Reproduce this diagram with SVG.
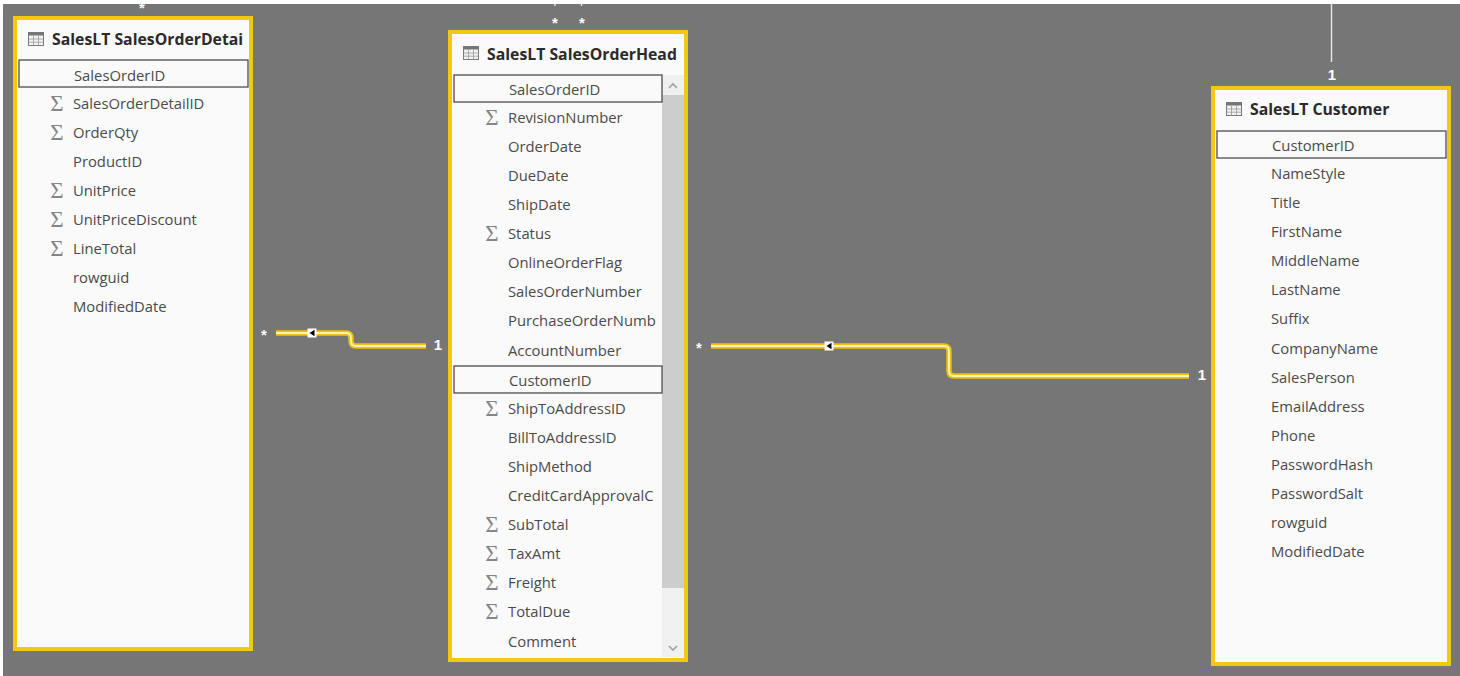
<svg xmlns="http://www.w3.org/2000/svg" xmlns:xlink="http://www.w3.org/1999/xlink" width="1460" height="676" viewBox="0 0 1460 676">
<style>
.card{fill:#fafafa;stroke:#f2c811;stroke-width:4}
.title{font:700 15.8px "Open Sans","Noto Sans",sans-serif;fill:#2b2b2b}
.f{font:400 14.8px "Open Sans","Noto Sans",sans-serif;fill:#4a4a4a}
.s{font:300 23px "Liberation Serif",serif;fill:#858585;text-anchor:middle}
.key{fill:none;stroke:#4d4d4d;stroke-width:1.3}
.card-lab{font:700 15px "Liberation Sans",sans-serif;fill:#fff;text-anchor:middle}
.wy{fill:none;stroke:#ecc20f;stroke-width:5.4;stroke-linejoin:round}
.ww{fill:none;stroke:#fff2ad;stroke-width:1.8;stroke-linejoin:round}
.thin{stroke:#e6e6e6;stroke-width:1.4;fill:none}
</style>
<defs>
<g id="tbl"><rect x="0.5" y="0.5" width="15" height="13" fill="#f2f2f2" stroke="#777" stroke-width="1"/><rect x="0.5" y="0.5" width="15" height="3" fill="#777"/><path d="M5.5 3.5V13.5M10.5 3.500V13.500M.5 7H15.5M.5 10.200H15.5" stroke="#999" stroke-width=".8" fill="none"/></g>
<g id="dir"><rect x="-4.500" y="-4.500" width="9" height="9" fill="#fff"/><path d="M-2.500 0L2.500 -3.200V3.200Z" fill="#000"/></g>
</defs>
<rect width="1460" height="676" fill="#fff"/>
<rect x="3" y="4" width="1457" height="672" fill="#767676"/>
<g id="connectors">
<path class="wy" d="M276 333H346Q351 333 351 338V341Q351 346 356 346H426"/>
<path class="ww" d="M276 333H346Q351 333 351 338V341Q351 346 356 346H426"/>
<use href="#dir" x="312" y="333"/>
<path class="wy" d="M711 346H944Q949 346 949 351V371Q949 376 954 376H1189"/>
<path class="ww" d="M711 346H944Q949 346 949 351V371Q949 376 954 376H1189"/>
<use href="#dir" x="829" y="346"/>
<path class="thin" d="M555 4V6M581.500 4V6M1331.500 4V62"/>
<text class="card-lab" x="264" y="340">*</text>
<text class="card-lab" x="438" y="350">1</text>
<text class="card-lab" x="699" y="353">*</text>
<text class="card-lab" x="1202" y="380">1</text>
<text class="card-lab" x="142" y="13">*</text>
<text class="card-lab" x="555" y="28">*</text>
<text class="card-lab" x="582" y="28">*</text>
<text class="card-lab" x="1332" y="80">1</text>
</g>
<g id="detail">
<rect class="card" x="15" y="18" width="236" height="631"/>
<use href="#tbl" x="28" y="32"/>
<text class="title" x="52" y="45">SalesLT SalesOrderDetai</text>
<rect class="key" x="19" y="60" width="229" height="27"/>
<g class="s"><text x="57" y="111">Σ</text><text x="57" y="140">Σ</text><text x="57" y="198">Σ</text><text x="57" y="227">Σ</text><text x="57" y="256">Σ</text></g>
<g class="f"><text x="74" y="80.500">SalesOrderID</text><text x="73" y="109">SalesOrderDetailID</text><text x="73" y="138">OrderQty</text><text x="73" y="167">ProductID</text><text x="73" y="196">UnitPrice</text><text x="73" y="225">UnitPriceDiscount</text><text x="73" y="254">LineTotal</text><text x="73" y="283">rowguid</text><text x="73" y="312">ModifiedDate</text></g>
</g>
<g id="header">
<rect class="card" x="450" y="32" width="236" height="628"/>
<use href="#tbl" x="463" y="46"/>
<text class="title" x="487" y="60">SalesLT SalesOrderHead</text>
<rect x="662" y="75" width="22" height="582" fill="#f0f0f0"/>
<rect x="662" y="95" width="22" height="493" fill="#cdcdcd"/>
<path d="M669 88L673 84L677 88M669 646L673 650L677 646" fill="none" stroke="#a0a0a0" stroke-width="1.6"/>
<rect class="key" x="454" y="75" width="208" height="27"/>
<rect class="key" x="454" y="366" width="208" height="27"/>
<g class="s"><text x="492" y="125">Σ</text><text x="492" y="241">Σ</text><text x="492" y="416">Σ</text><text x="492" y="532">Σ</text><text x="492" y="561">Σ</text><text x="492" y="590">Σ</text><text x="492" y="619">Σ</text></g>
<g class="f"><text x="509" y="95">SalesOrderID</text><text x="508" y="123">RevisionNumber</text><text x="508" y="152">OrderDate</text><text x="508" y="181">DueDate</text><text x="508" y="210">ShipDate</text><text x="508" y="239">Status</text><text x="508" y="268">OnlineOrderFlag</text><text x="508" y="297">SalesOrderNumber</text><text x="508" y="326">PurchaseOrderNumb</text><text x="508" y="356">AccountNumber</text><text x="509" y="386">CustomerID</text><text x="508" y="414">ShipToAddressID</text><text x="508" y="443">BillToAddressID</text><text x="508" y="472">ShipMethod</text><text x="508" y="501">CreditCardApprovalC</text><text x="508" y="530">SubTotal</text><text x="508" y="559">TaxAmt</text><text x="508" y="588">Freight</text><text x="508" y="617">TotalDue</text><text x="508" y="647">Comment</text></g>
</g>
<g id="customer">
<rect class="card" x="1213" y="88" width="236" height="576"/>
<use href="#tbl" x="1226" y="102"/>
<text class="title" x="1250" y="115">SalesLT Customer</text>
<rect class="key" x="1217" y="131" width="229" height="27"/>
<g class="f"><text x="1272" y="151">CustomerID</text><text x="1271" y="179">NameStyle</text><text x="1271" y="208">Title</text><text x="1271" y="237">FirstName</text><text x="1271" y="266">MiddleName</text><text x="1271" y="295">LastName</text><text x="1271" y="324">Suffix</text><text x="1271" y="354">CompanyName</text><text x="1271" y="383">SalesPerson</text><text x="1271" y="412">EmailAddress</text><text x="1271" y="441">Phone</text><text x="1271" y="470">PasswordHash</text><text x="1271" y="499">PasswordSalt</text><text x="1271" y="528">rowguid</text><text x="1271" y="557">ModifiedDate</text></g>
</g>
</svg>
